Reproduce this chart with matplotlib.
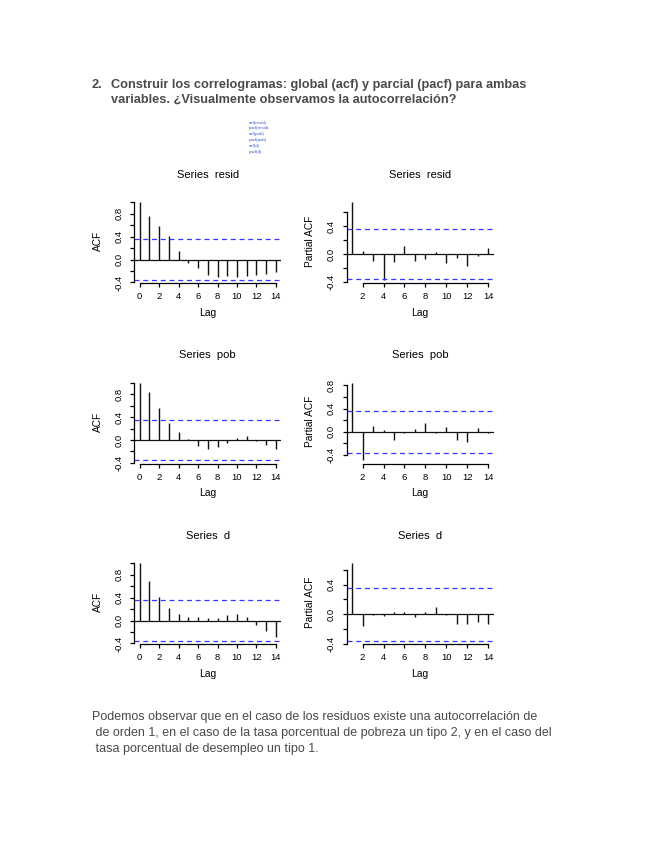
import matplotlib
matplotlib.use('Agg')
import matplotlib.pyplot as plt
import numpy as np

plt.rcParams['font.family'] = ['Liberation Sans', 'DejaVu Sans']

acf_resid = [1.0, 0.75, 0.58, 0.41, 0.15, -0.065, -0.15, -0.265, -0.305, -0.28, -0.30, -0.28, -0.27, -0.26, -0.21]
pacf_resid = [0.745, 0.05, -0.09, -0.365, -0.105, 0.115, -0.10, -0.07, 0.03, -0.125, -0.05, -0.17, -0.02, 0.085]
acf_pob = [1.0, 0.845, 0.55, 0.30, 0.135, 0.01, -0.11, -0.16, -0.13, -0.05, 0.03, 0.065, -0.015, -0.095, -0.15]
pacf_pob = [0.845, -0.49, 0.093, 0.029, -0.139, -0.012, 0.046, 0.145, -0.012, 0.081, -0.145, -0.174, 0.064, -0.023]
acf_d = [1.0, 0.69, 0.41, 0.22, 0.105, 0.06, 0.055, 0.047, 0.04, 0.09, 0.12, 0.055, -0.08, -0.19, -0.28]
pacf_d = [0.69, -0.16, -0.015, -0.02, 0.03, 0.035, -0.03, 0.025, 0.105, -0.005, -0.13, -0.135, -0.105, -0.125]
ci = 0.355  # banda 1.96/sqrt(n)

series = ['resid', 'pob', 'd']
acf_vals = [acf_resid, acf_pob, acf_d]
pacf_vals = [pacf_resid, pacf_pob, pacf_d]
codigo = ['acf(resid)', 'pacf(resid)', 'acf(pob)', 'pacf(pob)', 'acf(d)', 'pacf(d)']

titulo = ['2.', 'Construir los correlogramas: global (acf) y parcial (pacf) para ambas',
          'variables. ¿Visualmente observamos la autocorrelación?']
parrafo = ['Podemos observar que en el caso de los residuos existe una autocorrelación de',
           ' de orden 1, en el caso de la tasa porcentual de pobreza un tipo 2, y en el caso del',
           ' tasa porcentual de desempleo un tipo 1.']

W, H = 655, 848
fig = plt.figure(figsize=(W / 100, H / 100), dpi=100)


def px(x, y):
    return x / W, 1 - y / H


# texto del documento
gris = '#4a4a4a'
fig.text(*px(91.7, 85), titulo[0], fontsize=9.2, fontweight='bold', color=gris, va='center')
fig.text(*px(111, 85), titulo[1], fontsize=9.2, fontweight='bold', color=gris, va='center')
fig.text(*px(111, 99.5), titulo[2], fontsize=9.2, fontweight='bold', color=gris, va='center')
for i, c in enumerate(codigo):
    fig.text(*px(249, 122.7 + i * 5.8), c, fontsize=3.2, color='#3a5ccc', va='center')
fig.text(*px(91.7, 717.3), parrafo[0], fontsize=9.0, color=gris, va='center')
fig.text(*px(91.7, 733.3), parrafo[1], fontsize=9.0, color=gris, va='center')
fig.text(*px(91.7, 749), parrafo[2], fontsize=9.0, color=gris, va='center')

# estilo R de los correlogramas
ax_w, ax_h = 147, 84
col_left = [134.3, 346.7]
row_bottom = [283, 463.5, 644]


def correlograma(ax, lags, vals):
    vals = np.asarray(vals)
    lo, hi = min(vals.min(), -ci), max(vals.max(), ci)
    r = hi - lo
    ax.set_ylim(lo - 0.04 * r, hi + 0.04 * r)
    x0, x1 = lags[0], lags[-1]
    ax.set_xlim(x0 - 0.04 * (x1 - x0), x1 + 0.04 * (x1 - x0))
    ax.vlines(lags, 0, vals, color='#111111', lw=1.0)
    ax.axhline(0, color='#111111', lw=0.9)
    for s in (ci, -ci):
        ax.axhline(s, color='#3535ff', lw=0.9, ls=(0, (4, 3)))

    ylo, yhi = ax.get_ylim()
    yt = [round(t, 1) + 0.0 for t in np.arange(-1.0, 1.01, 0.2)]
    yt = [t for t in yt if ylo - 0.005 <= t <= yhi + 0.005]
    ax.set_yticks(yt)
    ax.set_yticklabels([f'{t:.1f}' if round(t / 0.4, 6) % 1 == 0 else '' for t in yt])
    xt = [t for t in range(0, 15, 2) if t >= x0]
    ax.set_xticks(xt)
    ax.spines['left'].set_bounds(yt[0], yt[-1])
    ax.spines['bottom'].set_bounds(xt[0], xt[-1])
    for s in ('top', 'right'):
        ax.spines[s].set_visible(False)
    for s in ('left', 'bottom'):
        ax.spines[s].set_linewidth(0.9)
    ax.tick_params(direction='out', length=3.2, width=0.9, labelsize=6.8)
    ax.tick_params(axis='x', pad=3.6)
    ax.tick_params(axis='y', pad=4.6, labelrotation=90)
    for lab in ax.get_yticklabels():
        lab.set_va('center')


for i, name in enumerate(series):
    for j in range(2):
        left = col_left[j]
        bottom = row_bottom[i]
        ax = fig.add_axes([left / W, 1 - bottom / H, ax_w / W, ax_h / H])
        if j == 0:
            correlograma(ax, list(range(0, 15)), acf_vals[i])
            ylab, ylab_x = 'ACF', 98.3
        else:
            correlograma(ax, list(range(1, 15)), pacf_vals[i])
            ylab, ylab_x = 'Partial ACF', 310
        cx = left + ax_w / 2
        top = bottom - ax_h
        fig.text(*px(cx, top - 24), f'Series  {name}', fontsize=8, ha='center', va='center')
        fig.text(*px(cx, bottom + 29.7), 'Lag', fontsize=7.5, ha='center', va='center')
        fig.text(*px(ylab_x, bottom - ax_h / 2), ylab, fontsize=7.3, rotation=90,
                 ha='center', va='center')

plt.savefig('out.png', dpi=100)
plt.close()
